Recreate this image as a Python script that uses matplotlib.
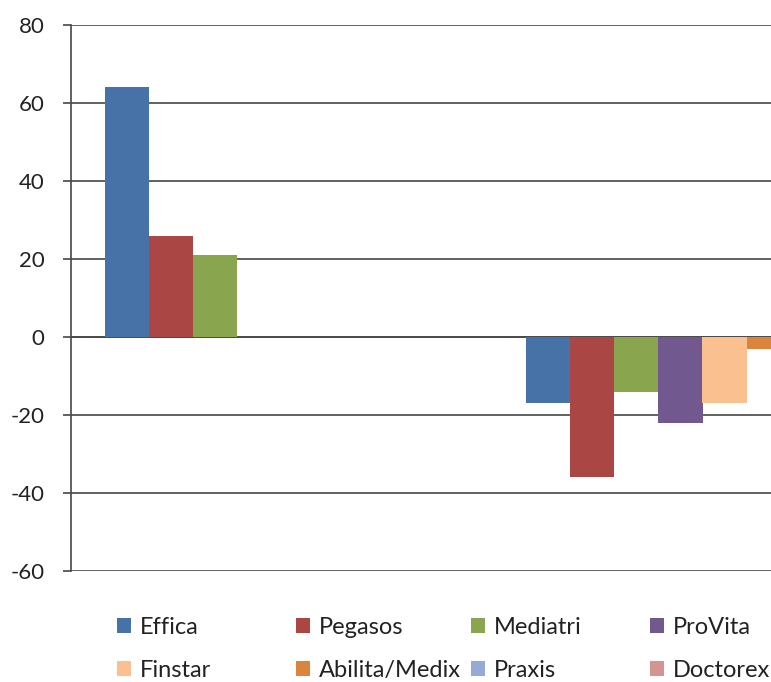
import matplotlib
matplotlib.use("Agg")
import matplotlib.pyplot as plt
import numpy as np
from matplotlib.patches import Patch

plt.rcParams['font.family'] = ['Lato', 'DejaVu Sans']

series = ["Effica", "Pegasos", "Mediatri", "ProVita", "Finstar", "Abilita/Medix", "Praxis", "Doctorex"]
group1 = [64, 26, 21, 0, 0, 0, 0, 0]
group2 = [-17, -36, -14, -22, -17, -3, 0, 0]
colors = ["#4672A7", "#AA4643", "#89A54E", "#71588F", "#FAC090", "#DB843D", "#95ABD5", "#D49494"]
yticks = [-60, -40, -20, 0, 20, 40, 60, 80]

W, H = 771, 682
fig = plt.figure(figsize=(W / 100, H / 100), dpi=100)
left, right, top, bottom = 71, 913, 25, 571
ax = fig.add_axes([left / W, 1 - bottom / H, (right - left) / W, (bottom - top) / H])

n = len(series)
bw = 0.105
centers = np.array([0.5, 1.5])
for i, (name, c) in enumerate(zip(series, colors)):
    vals = [group1[i], group2[i]]
    x = centers - n * bw / 2 + bw * (i + 0.5)
    ax.bar(x, vals, width=bw, color=c, edgecolor='none', zorder=3, label=name)

gc = '#474747'
ax.set_xlim(0, 2)
ax.set_ylim(-60, 80)
ax.set_yticks(yticks)
ax.set_yticklabels([str(v) for v in yticks])
ax.grid(axis='y', color=gc, linewidth=1.2, zorder=0)
ax.set_xticks([])
for s in ['top', 'right', 'bottom']:
    ax.spines[s].set_visible(False)
ax.spines['left'].set_color(gc)
ax.spines['left'].set_linewidth(1.2)
ax.axhline(0, color=gc, linewidth=1.2, zorder=2)
ax.tick_params(axis='y', direction='out', length=6, width=1.2, color=gc,
               labelsize=16, pad=13, labelcolor='#222222')

# legend: four columns, two rows (row-wise order as in the reference)
col_x = [117, 296, 471, 650]
for j in range(4):
    idx = [j, j + 4]
    hs = [Patch(facecolor=colors[k], edgecolor='none') for k in idx]
    labs = [series[k] for k in idx]
    fig.legend(hs, labs, loc='center left', bbox_to_anchor=(col_x[j] / W, 1 - 649 / H),
               frameon=False, fontsize=17, handlelength=0.6, handleheight=0.6,
               handletextpad=0.35, labelspacing=0.95, borderpad=0, borderaxespad=0,
               labelcolor='#222222')

fig.savefig("out.png", dpi=100)
